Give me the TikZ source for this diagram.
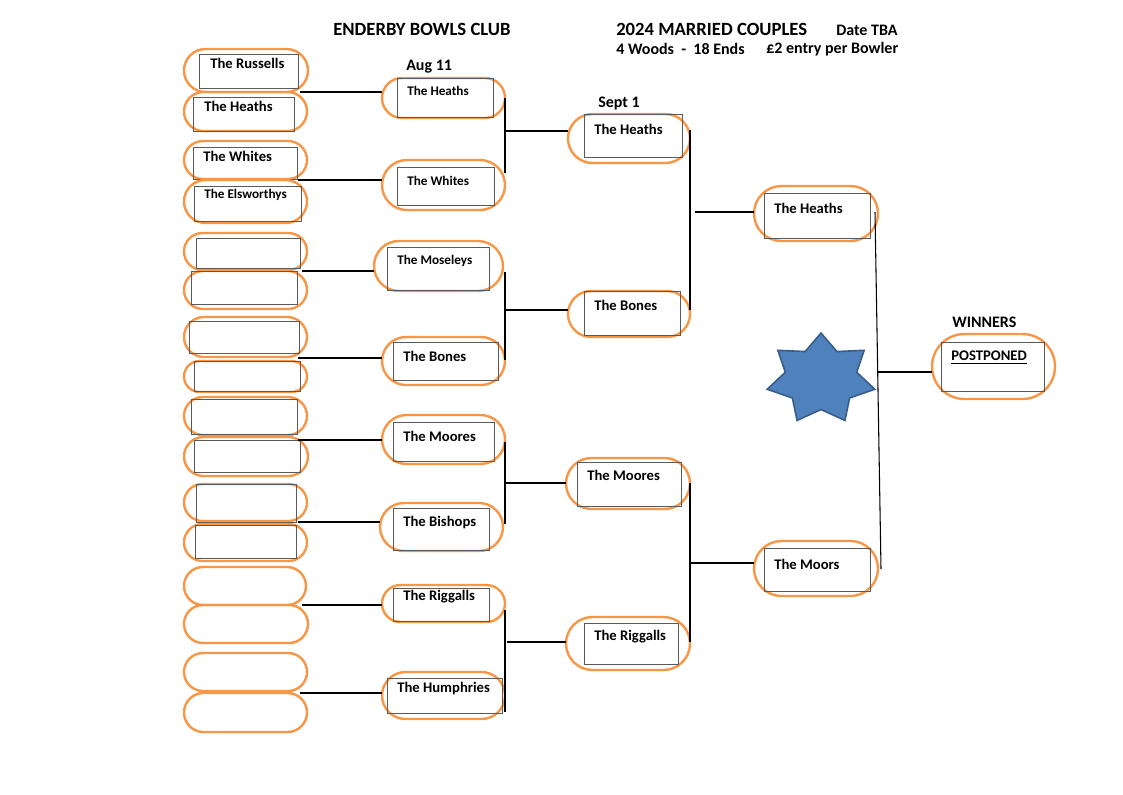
\documentclass[tikz,border=0pt]{standalone}
\usepackage{fontspec}
\setmainfont{Carlito}
\usetikzlibrary{shapes.misc}
\definecolor{org}{HTML}{F79646}
\definecolor{starfill}{HTML}{4F81BD}
\definecolor{starline}{HTML}{385D8A}
\definecolor{boxgray}{HTML}{5A5A5A}
\newcommand\pillnode[5]{\node[pillst, minimum width={(#4-#2)*0.75pt}, minimum height={(#5-#3)*0.75pt}] (#1) at ({(#2+#4)/2},{(#3+#5)/2}) {};}
\newcommand\boxnode[5]{\node[inbox, minimum width={(#4-#2)*0.75pt}, minimum height={(#5-#3)*0.75pt}] (#1) at ({(#2+#4)/2},{(#3+#5)/2}) {};}
\tikzset{
  pillst/.style={rounded rectangle, draw=org, line width=1.8pt, inner sep=0pt, outer sep=0pt},
  inbox/.style={rectangle, draw=boxgray, line width=0.6pt, inner sep=0pt, outer sep=0pt},
  nm/.style={anchor=west, inner sep=0pt, font=\fontsize{11}{13}\selectfont\bfseries},
  nms/.style={anchor=west, inner sep=0pt, font=\fontsize{9.9}{12}\selectfont\bfseries},
  hd/.style={anchor=west, inner sep=0pt, font=\fontsize{14}{16}\selectfont\bfseries},
  hds/.style={anchor=west, inner sep=0pt, font=\fontsize{12}{14}\selectfont\bfseries},
  wire/.style={draw=black, line width=0.8pt}
}
\begin{document}
\begin{tikzpicture}[x=0.75pt,y=-0.75pt]
\useasboundingbox (0,0) rectangle (1123,794);
% headers
\node[hd] (t1) at (333,29) {ENDERBY BOWLS CLUB};
\node[hd] (t2) at (616,29) {2024 MARRIED COUPLES};
\node[hds] (t3) at (836,30) {Date TBA};
\node[hds] (t4) at (616,49) {4 Woods\ \ -\ \ 18 Ends};
\node[hds] (t5) at (766,49) {£2 entry per Bowler};
\node[hds] (aug) at (406,67) {Aug 11};
\node[hds] (sep) at (598,104) {Sept 1};
\node[hds] (win) at (952,322) {WINNERS};
% left column
\pillnode{L1}{184}{49}{308}{92}   \boxnode{B1}{199}{54}{298}{88}
\pillnode{L2}{184}{92}{307}{131}  \boxnode{B2}{193}{97}{294}{131}
\pillnode{L3}{184}{141}{307}{179} \boxnode{B3}{193}{147}{297}{179}
\pillnode{L4}{184}{180}{307}{223} \boxnode{B4}{194}{186}{301}{221}
\pillnode{L5}{184}{233}{307}{270} \boxnode{B5}{196}{238}{300}{268}
\pillnode{L6}{184}{271}{307}{309} \boxnode{B6}{191}{271}{297}{304}
\pillnode{L7}{184}{317}{307}{357} \boxnode{B7}{189}{321}{299}{353}
\pillnode{L8}{184}{361}{307}{392} \boxnode{B8}{194}{361}{300}{391}
\pillnode{L9}{184}{397}{307}{435} \boxnode{B9}{191}{399}{297}{434}
\pillnode{L10}{184}{437}{308}{476} \boxnode{B10}{194}{440}{300}{472}
\pillnode{L11}{184}{484}{307}{521} \boxnode{B11}{196}{484}{296}{522}
\pillnode{L12}{184}{524}{307}{561} \boxnode{B12}{195}{525}{296}{558}
\pillnode{L13}{184}{567}{306}{605}
\pillnode{L14}{184}{605}{308}{643}
\pillnode{L15}{184}{653}{307}{691}
\pillnode{L16}{184}{693}{307}{732}
\node[nm] (n1) at (210,63) {The Russells};
\node[nm] (n2) at (204,106) {The Heaths};
\node[nm] (n3) at (203,156) {The Whites};
\node[nms] (n4) at (204,195) {The Elsworthys};
% round 2
\pillnode{R2a}{382}{78}{505}{118}  \boxnode{C2a}{397}{78}{493}{117}
\pillnode{R2b}{382}{160}{505}{210} \boxnode{C2b}{397}{167}{494}{205}
\pillnode{R2c}{374}{241}{503}{291} \boxnode{C2c}{387}{247}{489}{290}
\pillnode{R2d}{382}{337}{505}{385} \boxnode{C2d}{393}{342}{498}{380}
\pillnode{R2e}{382}{415}{505}{464} \boxnode{C2e}{393}{422}{494}{461}
\pillnode{R2f}{380}{503}{503}{551} \boxnode{C2f}{393}{508}{489}{550}
\pillnode{R2g}{382}{585}{505}{622} \boxnode{C2g}{393}{588}{489}{621}
\pillnode{R2h}{382}{672}{505}{719} \boxnode{C2h}{387}{678}{502}{713}
\node[nms] (m1) at (407,91) {The Heaths};
\node[nms] (m2) at (407,181) {The Whites};
\node[nms] (m3) at (397,261) {The Moseleys};
\node[nm] (m4) at (403,356) {The Bones};
\node[nm] (m5) at (403,436) {The Moores};
\node[nm] (m6) at (403,522) {The Bishops};
\node[nm] (m7) at (403,597) {The Riggalls};
\node[nm] (m8) at (397,688) {The Humphries};
% round 3
\pillnode{R3a}{568}{114}{690}{163} \boxnode{C3a}{584}{114}{682}{157}
\pillnode{R3b}{568}{291}{690}{337} \boxnode{C3b}{584}{291}{680}{335}
\pillnode{R3c}{566}{458}{690}{509} \boxnode{C3c}{577}{462}{681}{506}
\pillnode{R3d}{566}{617}{690}{670} \boxnode{C3d}{584}{623}{678}{664}
\node[nm] (p1) at (594,129) {The Heaths};
\node[nm] (p2) at (594,305) {The Bones};
\node[nm] (p3) at (587,475) {The Moores};
\node[nm] (p4) at (594,637) {The Riggalls};
% round 4
\pillnode{R4a}{754}{186}{878}{241} \boxnode{C4a}{764}{193}{870}{238}
\pillnode{R4b}{754}{541}{878}{596} \boxnode{C4b}{764}{548}{870}{591}
\node[nm] (q1) at (774,208) {The Heaths};
\node[nm] (q2) at (774,564) {The Moors};
% winners
\pillnode{W}{932}{334}{1055}{399} \boxnode{CW}{941}{342}{1044}{391}
\node[nm] (pp) at (951,356) {POSTPONED};
\draw[line width=0.7pt] ([yshift=-1.5pt]pp.south west) -- ([yshift=-1.5pt]pp.south east);
% star
\draw[fill=starfill, draw=starline, line width=1.2pt, xshift=821*0.75pt, yshift=-379*0.75pt]
  plot[samples at={0,...,13}, variable=\k] ({1.2*(mod(\k,2)==0 ? 46 : 30.5)*cos(-90+\k*180/7)}, {(mod(\k,2)==0 ? 46 : 30.5)*sin(-90+\k*180/7)}) -- cycle;
% connectors round 1 -> 2
\coordinate (j1) at (300,92);  \draw[wire] (j1) -- (j1 -| R2a.west);
\coordinate (j2) at (298,180); \draw[wire] (j2) -- (j2 -| R2b.west);
\coordinate (j3) at (302,271); \draw[wire] (j3) -- (j3 -| R2c.west);
\coordinate (j4) at (298,358); \draw[wire] (j4) -- (j4 -| R2d.west);
\coordinate (j5) at (298,440); \draw[wire] (j5) -- (j5 -| R2e.west);
\coordinate (j6) at (298,522); \draw[wire] (j6) -- (j6 -| R2f.west);
\coordinate (j7) at (302,605); \draw[wire] (j7) -- (j7 -| R2g.west);
\coordinate (j8) at (300,693); \draw[wire] (j8) -- (j8 -| R2h.west);
% round 2 -> 3
\draw[wire] (505,98) -- (505,173);  \coordinate (k1) at (505,131); \draw[wire] (k1) -- (k1 -| R3a.west);
\draw[wire] (505,272) -- (505,360); \coordinate (k2) at (505,310); \draw[wire] (k2) -- (k2 -| R3b.west);
\draw[wire] (505,442) -- (505,524); \coordinate (k3) at (505,483); \draw[wire] (k3) -- (k3 -| R3c.west);
\draw[wire] (505,610) -- (505,712); \coordinate (k4) at (507,642); \draw[wire] (k4) -- (k4 -| R3d.west);
% round 3 -> 4
\draw[wire] (690,130) -- (690,310); \coordinate (h1) at (695,212); \draw[wire] (h1) -- (h1 -| R4a.west);
\draw[wire] (690,483) -- (690,642); \coordinate (h2) at (690,563); \draw[wire] (h2) -- (h2 -| R4b.west);
% final
\coordinate (f1) at (875,212); \coordinate (f2) at (881,569);
\draw[wire] (f1) -- (f2);
\coordinate (f3) at (878,372); \draw[wire] (f3) -- (f3 -| W.west);
\end{tikzpicture}
\end{document}
